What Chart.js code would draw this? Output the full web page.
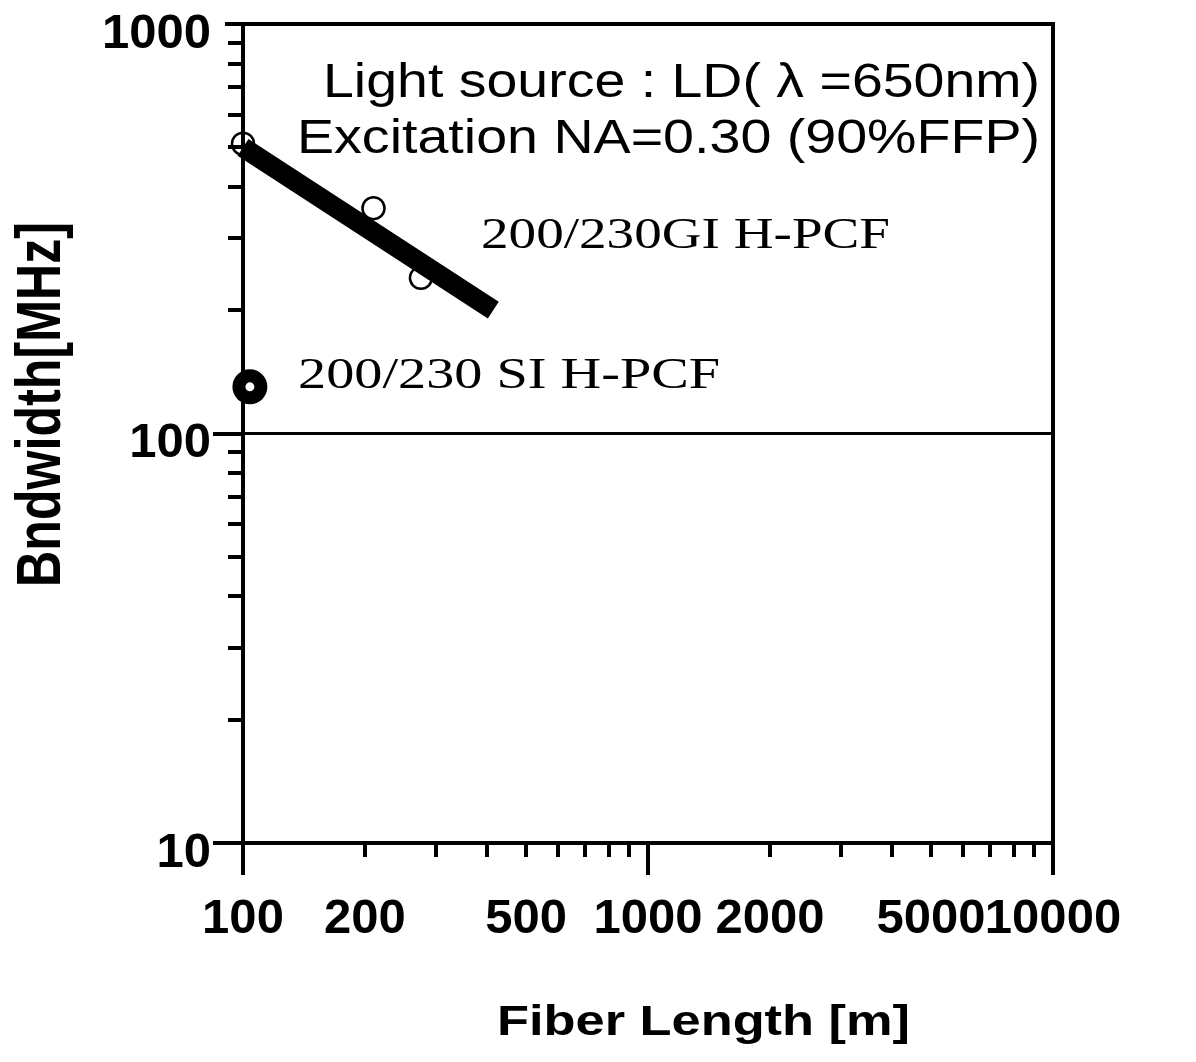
<!DOCTYPE html>
<html>
<head>
<meta charset="utf-8">
<script src="https://cdn.jsdelivr.net/npm/chart.js@4.4.1/dist/chart.umd.min.js"></script>
<style>
  html, body { margin: 0; padding: 0; background: #fff; }
  #wrap { width: 1196px; height: 1062px; }
</style>
</head>
<body>
<div id="wrap"><canvas id="chart" width="1196" height="1062"></canvas></div>
<script>
// 200/230 GI H-PCF, measured points
const giLength = [100, 210, 275];
const giBandwidth = [510, 355, 240];
// fitted trend through the GI points
const fitLength = [100, 415];
const fitBandwidth = [500, 200];
// 200/230 SI H-PCF
const siLength = [104];
const siBandwidth = [130];
// 100 MHz reference level
const refLength = [100, 10000];
const refBandwidth = [100, 100];

// axis ticks
const xTickValues = [100, 200, 300, 400, 500, 600, 700, 800, 900,
  1000, 2000, 3000, 4000, 5000, 6000, 7000, 8000, 9000, 10000];
const xTickLabels = ['100', '200', '500', '1000', '2000', '5000', '10000'];
const yTickValues = [10, 20, 30, 40, 50, 60, 70, 80, 90,
  100, 200, 300, 400, 500, 600, 700, 800, 900, 1000];
const yTickLabels = ['10', '100', '1000'];

const pts = (xs, ys) => xs.map((x, i) => ({ x: x, y: ys[i] }));
const isDecade = v => Math.abs(Math.log10(v) - Math.round(Math.log10(v))) < 1e-9;

const tickFont = { family: '"Liberation Sans", Arial, sans-serif', size: 49, weight: 'bold' };

// draws text squeezed/stretched to a given width
function fitText(ctx, str, font, x, y, width, rotate) {
  ctx.save();
  ctx.font = font;
  const w = ctx.measureText(str).width;
  ctx.translate(x, y);
  if (rotate) ctx.rotate(-Math.PI / 2);
  ctx.scale(width / w, 1);
  ctx.textAlign = 'left';
  ctx.textBaseline = 'alphabetic';
  ctx.fillStyle = '#000';
  ctx.fillText(str, 0, 0);
  ctx.restore();
}

const frame = {
  id: 'frame',
  afterDraw(chart) {
    const ctx = chart.ctx;
    const a = chart.chartArea;
    const xs = chart.scales.x, ys = chart.scales.y;
    ctx.save();
    ctx.strokeStyle = '#000';
    ctx.lineWidth = 4;
    ctx.lineCap = 'butt';

    // box
    ctx.beginPath();
    ctx.moveTo(a.left, a.top - 2); ctx.lineTo(a.left, a.bottom + 2);
    ctx.moveTo(a.right, a.top - 2); ctx.lineTo(a.right, a.bottom + 2);
    ctx.moveTo(a.left, a.top); ctx.lineTo(a.right, a.top);
    ctx.moveTo(a.left, a.bottom); ctx.lineTo(a.right, a.bottom);
    ctx.stroke();

    // x tick marks, pointing down
    ctx.beginPath();
    xTickValues.forEach(v => {
      const px = Math.round(xs.getPixelForValue(v));
      const len = isDecade(v) ? 32 : 14;
      ctx.moveTo(px, a.bottom); ctx.lineTo(px, a.bottom + len);
    });
    ctx.stroke();

    // y tick marks, pointing left
    ctx.beginPath();
    yTickValues.forEach(v => {
      const py = Math.round(ys.getPixelForValue(v));
      const len = v === 1000 ? 18 : (isDecade(v) ? 30 : 15);
      ctx.moveTo(a.left - len, py); ctx.lineTo(a.left, py);
    });
    ctx.stroke();
    ctx.restore();

    // notes
    const sans = '49px "Liberation Sans", Arial, sans-serif';
    const serif = '45px "Liberation Serif", "Times New Roman", serif';
    fitText(ctx, 'Light source : LD( \u03bb =650nm)', sans, 323, 97, 717);
    fitText(ctx, 'Excitation NA=0.30 (90%FFP)', sans, 297, 153, 743);
    fitText(ctx, '200/230GI H-PCF', serif, 481, 248, 409);
    fitText(ctx, '200/230 SI H-PCF', serif, 298, 388, 422);

    // axis titles
    fitText(ctx, 'Fiber Length [m]', 'bold 42px "Liberation Sans", Arial, sans-serif', 497, 1035, 413);
    fitText(ctx, 'Bndwidth[MHz]', 'bold 63px "Liberation Sans", Arial, sans-serif', 60, 587, 365, true);
  }
};

new Chart(document.getElementById('chart'), {
  type: 'scatter',
  data: {
    datasets: [
      {
        label: '100 MHz',
        type: 'line',
        data: pts(refLength, refBandwidth),
        borderColor: '#000',
        borderWidth: 3,
        pointRadius: 0,
        order: 4
      },
      {
        label: '200/230GI H-PCF measured',
        data: pts(giLength, giBandwidth),
        pointStyle: 'circle',
        pointRadius: 11,
        pointBorderWidth: 2.5,
        pointBackgroundColor: 'rgba(0,0,0,0)',
        pointBorderColor: '#000',
        clip: false,
        order: 3
      },
      {
        label: '200/230GI H-PCF fit',
        type: 'line',
        data: pts(fitLength, fitBandwidth),
        borderColor: '#000',
        borderWidth: 20,
        borderCapStyle: 'butt',
        pointRadius: 0,
        clip: false,
        order: 2
      },
      {
        label: '200/230 SI H-PCF',
        data: pts(siLength, siBandwidth),
        pointRadius: 11,
        pointBorderWidth: 13,
        pointBackgroundColor: '#fff',
        pointBorderColor: '#000',
        clip: false,
        order: 1
      }
    ]
  },
  options: {
    responsive: false,
    animation: false,
    events: [],
    layout: { padding: { top: 20, right: 143, bottom: 0, left: 0 } },
    plugins: { legend: { display: false }, tooltip: { enabled: false } },
    scales: {
      x: {
        type: 'logarithmic',
        min: 100,
        max: 10000,
        border: { display: false },
        grid: { display: false },
        afterBuildTicks: s => { s.ticks = xTickValues.map(v => ({ value: v })); },
        afterFit: s => { s.height = 219; s.paddingLeft = 0; s.paddingRight = 0; },
        ticks: {
          autoSkip: false,
          maxRotation: 0,
          padding: 39,
          color: '#000',
          font: tickFont,
          callback: v => xTickLabels.includes(String(v)) ? String(v) : ''
        }
      },
      y: {
        type: 'logarithmic',
        min: 10,
        max: 1000,
        border: { display: false },
        grid: { display: false },
        afterBuildTicks: s => { s.ticks = yTickValues.map(v => ({ value: v })); },
        afterFit: s => { s.width = 243; s.paddingTop = 0; s.paddingBottom = 0; },
        ticks: {
          autoSkip: false,
          padding: 24,
          labelOffset: 10,
          color: '#000',
          font: tickFont,
          callback: v => yTickLabels.includes(String(v)) ? String(v) : ''
        }
      }
    }
  },
  plugins: [frame]
});
</script>
</body>
</html>
